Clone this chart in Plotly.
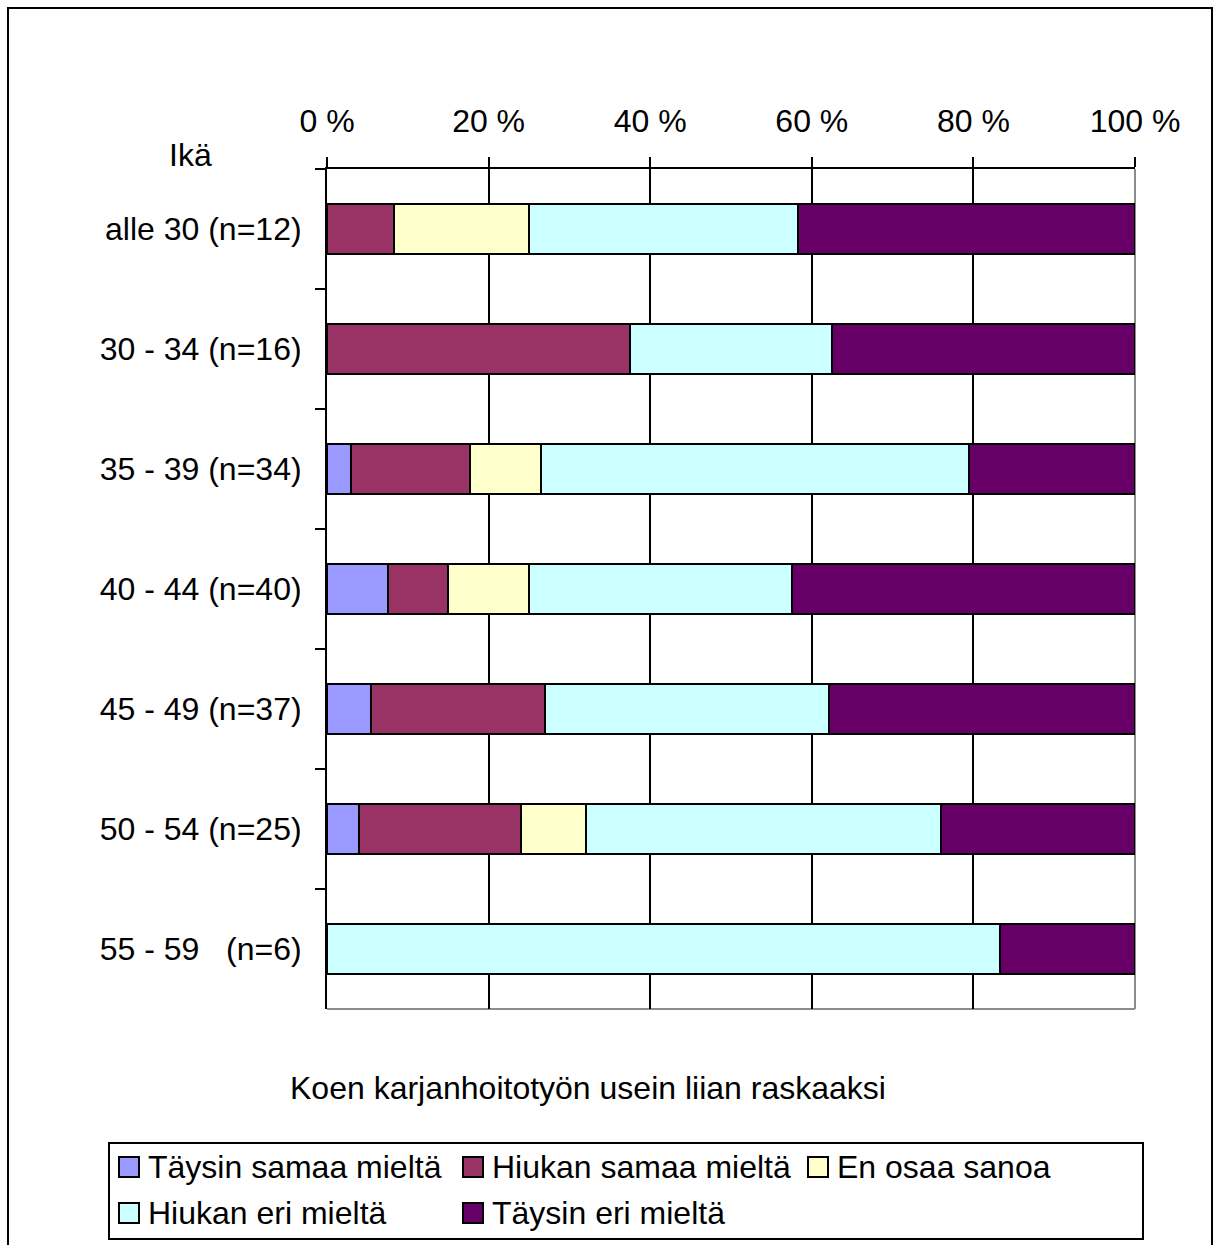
import plotly.graph_objects as go

# Age groups (top to bottom) and answer counts per group
age_groups = [
    "alle 30 (n=12)",
    "30 - 34 (n=16)",
    "35 - 39 (n=34)",
    "40 - 44 (n=40)",
    "45 - 49 (n=37)",
    "50 - 54 (n=25)",
    "55 - 59\u00a0\u00a0\u00a0(n=6)",
]
taysin_samaa = [0, 0, 1, 3, 2, 1, 0]
hiukan_samaa = [1, 6, 5, 3, 8, 5, 0]
en_osaa = [2, 0, 3, 4, 0, 2, 0]
hiukan_eri = [4, 4, 18, 13, 13, 11, 5]
taysin_eri = [5, 6, 7, 17, 14, 6, 1]

series_names = [
    "Täysin samaa mieltä",
    "Hiukan samaa mieltä",
    "En osaa sanoa",
    "Hiukan eri mieltä",
    "Täysin eri mieltä",
]
series_values = [taysin_samaa, hiukan_samaa, en_osaa, hiukan_eri, taysin_eri]
series_colors = ["#9999FF", "#993366", "#FFFFCC", "#CCFFFF", "#660066"]

x_ticks = [0, 20, 40, 60, 80, 100]
x_tick_labels = ["0 %", "20 %", "40 %", "60 %", "80 %", "100 %"]

chart_title = "Koen karjanhoitotyön usein liian raskaaksi"
axis_label = "Ikä"

FONT = "Liberation Sans, Arial, sans-serif"
FS = 32

W, H = 1216, 1245
ML, MR, MT, MB = 327, 81, 169, 236
PW, PH = W - ML - MR, H - MT - MB


def px(x):
    return (x - ML) / PW


def py(y):
    return (H - MB - y) / PH


fig = go.Figure()
for name, vals, col in zip(series_names, series_values, series_colors):
    fig.add_trace(go.Bar(
        y=age_groups, x=vals, name=name, orientation="h",
        marker=dict(color=col, line=dict(color="black", width=2)),
        showlegend=False,
    ))

shapes = [
    # plot area right and bottom borders in grey
    dict(type="line", xref="paper", yref="paper", x0=1, x1=1, y0=0, y1=1,
         line=dict(color="#8C8C8C", width=2), layer="below"),
    dict(type="line", xref="paper", yref="paper", x0=0, x1=1, y0=0, y1=0,
         line=dict(color="#8C8C8C", width=2), layer="below"),
    # outer chart frame
    dict(type="rect", xref="paper", yref="paper",
         x0=px(8), x1=px(1212), y0=py(1260), y1=py(8),
         line=dict(color="black", width=2), fillcolor="rgba(0,0,0,0)"),
    # legend frame
    dict(type="rect", xref="paper", yref="paper",
         x0=px(109), x1=px(1143), y0=py(1239), y1=py(1143),
         line=dict(color="black", width=2), fillcolor="white"),
]
annotations = [
    dict(text=axis_label, xref="paper", yref="paper", x=px(190), y=py(155),
         showarrow=False, font=dict(family=FONT, size=FS, color="black"),
         xanchor="center", yanchor="middle"),
    dict(text=chart_title, xref="paper", yref="paper", x=px(588), y=py(1088),
         showarrow=False, font=dict(family=FONT, size=FS, color="black"),
         xanchor="center", yanchor="middle"),
]

# legend entries: colour box + label
legend_pos = [(119, 1167), (463, 1167), (808, 1167), (119, 1213), (463, 1213)]
for (lx, ly), name, col in zip(legend_pos, series_names, series_colors):
    shapes.append(dict(type="rect", xref="paper", yref="paper",
                       x0=px(lx), x1=px(lx + 20), y0=py(ly + 10), y1=py(ly - 10),
                       line=dict(color="black", width=2), fillcolor=col))
    annotations.append(dict(text=name, xref="paper", yref="paper",
                            x=px(lx + 27), y=py(ly), showarrow=False,
                            xanchor="left", yanchor="middle",
                            font=dict(family=FONT, size=FS, color="black")))

fig.update_layout(
    width=W, height=H,
    margin=dict(l=ML, r=MR, t=MT, b=MB),
    barmode="stack", barnorm="percent", bargap=0.59,
    plot_bgcolor="white", paper_bgcolor="white",
    font=dict(family=FONT, size=FS, color="black"),
    shapes=shapes, annotations=annotations,
    xaxis=dict(
        side="top", range=[0, 100], tickvals=x_ticks, ticktext=x_tick_labels,
        showgrid=True, gridcolor="black", gridwidth=2, zeroline=False,
        showline=True, linecolor="black", linewidth=2,
        ticks="outside", ticklen=10, tickwidth=2, tickcolor="black",
        ticklabelstandoff=12,
        tickfont=dict(family=FONT, size=FS, color="black"),
    ),
    yaxis=dict(
        autorange="reversed", showgrid=False, zeroline=False,
        showline=True, linecolor="black", linewidth=2,
        ticks="outside", tickson="boundaries", ticklen=10, tickwidth=2,
        tickcolor="black", ticklabelstandoff=17,
        tickfont=dict(family=FONT, size=FS, color="black"),
    ),
)

fig.write_html("out.html")
